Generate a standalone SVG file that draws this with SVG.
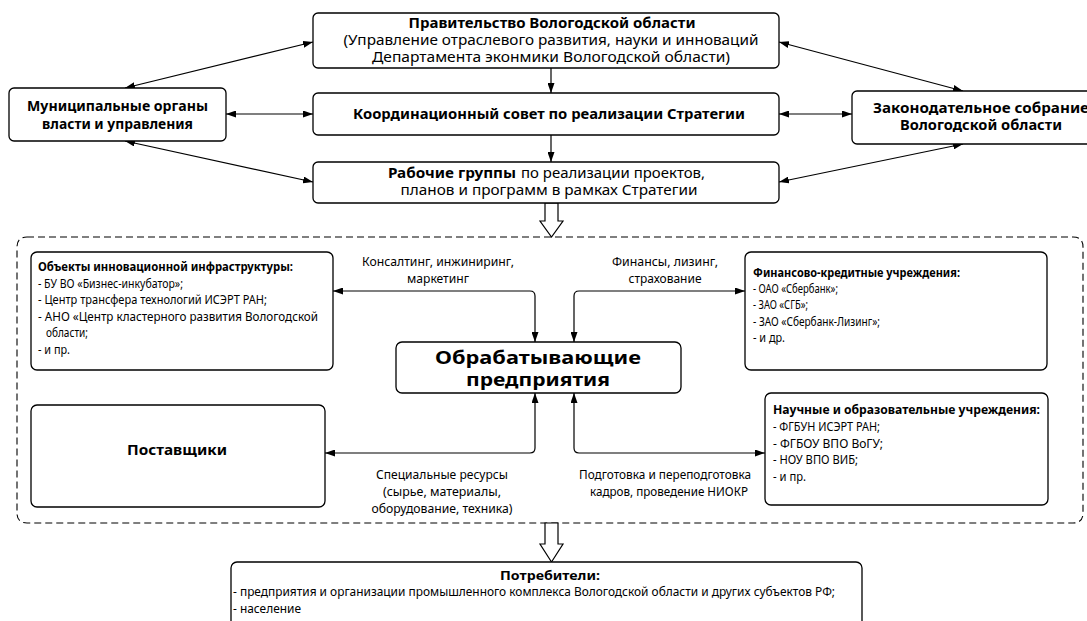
<svg xmlns="http://www.w3.org/2000/svg" width="1087" height="621" viewBox="0 0 1087 621">
<defs>
<marker id="ah" viewBox="0 0 10 7" refX="10" refY="3.5" markerWidth="10" markerHeight="7" markerUnits="userSpaceOnUse" orient="auto-start-reverse"><path d="M0,0 L10,3.5 L0,7z" fill="#000"/></marker>
<style>
.box{fill:#fff;stroke:#000;stroke-width:1.3}
.t{font-family:"Noto Sans","Open Sans","Liberation Sans",sans-serif;font-size:14px;fill:#000}
.b{font-weight:bold}
.c{font-family:"Liberation Sans Narrow","Noto Sans","Liberation Sans",sans-serif;font-size:13px;fill:#000}
.m{text-anchor:middle}
.big{font-size:18px}
.sm{font-size:12.5px}
.con{fill:none;stroke:#000;stroke-width:1.2;marker-start:url(#ah);marker-end:url(#ah)}
.one{fill:none;stroke:#000;stroke-width:1.2;marker-end:url(#ah)}
.hol{fill:#fff;stroke:#000;stroke-width:1.2}
</style>
</defs>
<rect width="1087" height="621" fill="#fff"/>

<g id="cluster">
<path d="M27,237 H1073 Q1083,237 1083,247 V513 Q1083,523 1073,523 H27 Q17,523 17,513 V247 Q17,237 27,237 Z" fill="none" stroke="#000" stroke-width="1.1" stroke-dasharray="7 4"/>
</g>

<g id="connectors">
<path class="con" d="M125,88 L313,42"/>
<path class="con" d="M226,114 L313,114"/>
<path class="con" d="M125,141 L313,182"/>
<path class="con" d="M779,42 L963,91"/>
<path class="con" d="M779,114 L852,114"/>
<path class="con" d="M779,182 L963,144"/>
<path class="one" d="M551,68 V93"/>
<path class="one" d="M551,135 V162"/>
<path class="con" d="M333,291 H530 Q535,291 535,296 V342"/>
<path class="con" d="M574,342 V296 Q574,291 579,291 H745"/>
<path class="con" d="M535,393 V448 Q535,453 530,453 H325"/>
<path class="con" d="M574,393 V448 Q574,453 579,453 H765"/>
<polygon class="hol" points="545,203 558,203 558,221 563,221 551.5,237 540,221 545,221"/>
<polygon class="hol" points="545,523 558,523 558,544 563,544 551.5,562 540,544 545,544"/>
<text class="c m" x="438" y="266" textLength="152" lengthAdjust="spacingAndGlyphs">Консалтинг, инжиниринг,</text>
<text class="c m" x="438" y="283" textLength="62" lengthAdjust="spacingAndGlyphs">маркетинг</text>
<text class="c m" x="665" y="266" textLength="106" lengthAdjust="spacingAndGlyphs">Финансы, лизинг,</text>
<text class="c m" x="665" y="283" textLength="73" lengthAdjust="spacingAndGlyphs">страхование</text>
<text class="c m" x="442" y="479" textLength="132" lengthAdjust="spacingAndGlyphs">Специальные ресурсы</text>
<text class="c m" x="442" y="496" textLength="118" lengthAdjust="spacingAndGlyphs">(сырье, материалы,</text>
<text class="c m" x="442" y="513" textLength="141" lengthAdjust="spacingAndGlyphs">оборудование, техника)</text>
<text class="c m" x="665" y="479" textLength="172" lengthAdjust="spacingAndGlyphs">Подготовка и переподготовка</text>
<text class="c m" x="669" y="496" textLength="158" lengthAdjust="spacingAndGlyphs">кадров, проведение НИОКР</text>
</g>

<g id="gov">
<rect class="box" x="313" y="13" width="466" height="55" rx="5"/>
<text class="t b m" x="552" y="28" textLength="287" lengthAdjust="spacingAndGlyphs">Правительство Вологодской области</text>
<text class="t m" x="551" y="45" textLength="415" lengthAdjust="spacingAndGlyphs">(Управление отраслевого развития, науки и инноваций</text>
<text class="t m" x="551" y="62" textLength="358" lengthAdjust="spacingAndGlyphs">Департамента эконмики Вологодской области)</text>
</g>

<g id="coord">
<rect class="box" x="313" y="93" width="466" height="42" rx="5"/>
<text class="t b m" x="549" y="119" textLength="392" lengthAdjust="spacingAndGlyphs">Координационный совет по реализации Стратегии</text>
</g>

<g id="wg">
<rect class="box" x="313" y="162" width="466" height="41" rx="5"/>
<text class="t b" x="388" y="178" textLength="128" lengthAdjust="spacingAndGlyphs">Рабочие группы</text>
<text class="t" x="521" y="178" textLength="184" lengthAdjust="spacingAndGlyphs">по реализации проектов,</text>
<text class="t m" x="549" y="195" textLength="297" lengthAdjust="spacingAndGlyphs">планов и программ в рамках Стратегии</text>
</g>

<g id="mun">
<rect class="box" x="9" y="88" width="217" height="53" rx="5"/>
<text class="t b m" x="117.5" y="111" textLength="181" lengthAdjust="spacingAndGlyphs">Муниципальные органы</text>
<text class="t b m" x="117.5" y="129" textLength="151" lengthAdjust="spacingAndGlyphs">власти и управления</text>
</g>

<g id="leg">
<rect class="box" x="852" y="91" width="258" height="53" rx="5"/>
<text class="t b m" x="981" y="113" textLength="216" lengthAdjust="spacingAndGlyphs">Законодательное собрание</text>
<text class="t b m" x="981" y="130" textLength="162" lengthAdjust="spacingAndGlyphs">Вологодской области</text>
</g>

<g id="infra">
<rect class="box" x="31" y="252" width="302" height="118" rx="6"/>
<text class="c b" x="38" y="271" textLength="255" lengthAdjust="spacingAndGlyphs">Объекты инновационной инфраструктуры:</text>
<text class="c" x="38" y="288" textLength="145" lengthAdjust="spacingAndGlyphs">- БУ ВО «Бизнес-инкубатор»;</text>
<text class="c" x="38" y="304" textLength="229" lengthAdjust="spacingAndGlyphs">- Центр трансфера технологий ИСЭРТ РАН;</text>
<text class="c" x="38" y="321" textLength="280" lengthAdjust="spacingAndGlyphs">- АНО «Центр кластерного развития Вологодской</text>
<text class="c" x="46" y="337" textLength="42" lengthAdjust="spacingAndGlyphs">области;</text>
<text class="c" x="38" y="354" textLength="32" lengthAdjust="spacingAndGlyphs">- и пр.</text>
</g>

<g id="fin">
<rect class="box" x="745" y="252" width="302" height="118" rx="6"/>
<text class="c b" x="753" y="277" textLength="207" lengthAdjust="spacingAndGlyphs">Финансово-кредитные учреждения:</text>
<text class="c" x="753" y="293" textLength="85" lengthAdjust="spacingAndGlyphs">- ОАО «Сбербанк»;</text>
<text class="c" x="753" y="309" textLength="55" lengthAdjust="spacingAndGlyphs">- ЗАО «СГБ»;</text>
<text class="c" x="753" y="326" textLength="127" lengthAdjust="spacingAndGlyphs">- ЗАО «Сбербанк-Лизинг»;</text>
<text class="c" x="753" y="342" textLength="32" lengthAdjust="spacingAndGlyphs">- и др.</text>
</g>

<g id="central">
<rect class="box" x="396" y="342" width="285" height="51" rx="6"/>
<text class="t b m big" x="538" y="364" textLength="206" lengthAdjust="spacingAndGlyphs">Обрабатывающие</text>
<text class="t b m big" x="538" y="386" textLength="144" lengthAdjust="spacingAndGlyphs">предприятия</text>
</g>

<g id="supp">
<rect class="box" x="31" y="405" width="294" height="102" rx="6"/>
<text class="t b m" x="177" y="455" textLength="100" lengthAdjust="spacingAndGlyphs">Поставщики</text>
</g>

<g id="sci">
<rect class="box" x="765" y="393" width="283" height="112" rx="6"/>
<text class="c b" x="773" y="414" textLength="267" lengthAdjust="spacingAndGlyphs">Научные и образовательные учреждения:</text>
<text class="c" x="773" y="431" textLength="107" lengthAdjust="spacingAndGlyphs">- ФГБУН ИСЭРТ РАН;</text>
<text class="c" x="773" y="448" textLength="110" lengthAdjust="spacingAndGlyphs">- ФГБОУ ВПО ВоГУ;</text>
<text class="c" x="773" y="464" textLength="85" lengthAdjust="spacingAndGlyphs">- НОУ ВПО ВИБ;</text>
<text class="c" x="773" y="481" textLength="33" lengthAdjust="spacingAndGlyphs">- и пр.</text>
</g>

<g id="cons">
<rect class="box" x="231" y="562" width="631" height="80" rx="6"/>
<text class="c b m" x="550" y="580" textLength="100" lengthAdjust="spacingAndGlyphs">Потребители:</text>
<text class="c sm" x="233" y="596" textLength="602" lengthAdjust="spacingAndGlyphs">- предприятия и организации промышленного комплекса Вологодской области и других субъектов РФ;</text>
<text class="c sm" x="233" y="613" textLength="68" lengthAdjust="spacingAndGlyphs">- население</text>
</g>
</svg>
